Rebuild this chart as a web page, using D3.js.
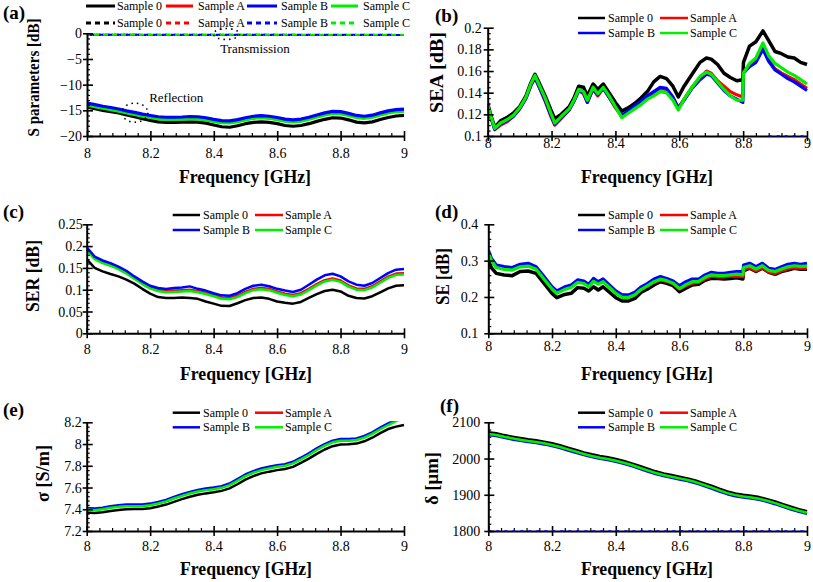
<!DOCTYPE html>
<html>
<head>
<meta charset="utf-8">
<script src="https://cdn.jsdelivr.net/npm/d3@7"></script>
<style>
  body { margin: 0; background: #fff; }
  text { font-family: "Liberation Serif", "Times New Roman", serif; fill: #000; }
</style>
</head>
<body>
<svg id="fig" width="813" height="582"></svg>
<script>
// ---- data ----
const freq = [8.000,8.025,8.050,8.075,8.100,8.125,8.150,8.175,8.200,8.225,8.250,8.275,8.300,8.325,8.350,8.375,8.400,8.425,8.450,8.475,8.500,8.525,8.550,8.575,8.600,8.625,8.650,8.675,8.700,8.725,8.750,8.775,8.800,8.825,8.850,8.875,8.900,8.925,8.950,8.975,9.000];
const freqT = [8.0,8.1,8.2,8.3,8.4,8.5,8.6,8.7,8.8,8.9,9.0];
const freqSEA = [8.000,8.010,8.022,8.040,8.060,8.080,8.100,8.120,8.135,8.148,8.160,8.180,8.198,8.210,8.230,8.255,8.270,8.285,8.300,8.312,8.330,8.345,8.362,8.380,8.400,8.420,8.440,8.460,8.480,8.500,8.520,8.540,8.560,8.580,8.597,8.615,8.640,8.665,8.685,8.700,8.720,8.740,8.760,8.780,8.799,8.801,8.820,8.840,8.862,8.880,8.900,8.920,8.940,8.960,8.980,9.000];
const freqSE = [8.000,8.010,8.025,8.050,8.075,8.100,8.125,8.150,8.175,8.200,8.215,8.240,8.260,8.280,8.300,8.315,8.330,8.345,8.360,8.380,8.400,8.420,8.440,8.460,8.480,8.500,8.520,8.540,8.560,8.580,8.600,8.620,8.640,8.660,8.680,8.700,8.720,8.740,8.760,8.780,8.799,8.801,8.820,8.840,8.860,8.880,8.900,8.920,8.940,8.960,8.980,9.000];

const sampleNames = ["Sample 0", "Sample A", "Sample B", "Sample C"];
const sampleColors = ["#000000", "#ff0000", "#0000ff", "#00ee00"];

// (a) reflection (solid) and transmission (dashed), dB
const s11_0 = [-14.4,-14.7,-15.0,-15.25,-15.5,-15.9,-16.25,-16.65,-16.95,-17.25,-17.35,-17.35,-17.3,-17.25,-17.3,-17.5,-17.85,-18.2,-18.3,-18.0,-17.6,-17.35,-17.25,-17.35,-17.6,-17.95,-18.1,-17.95,-17.6,-17.15,-16.75,-16.45,-16.5,-16.85,-17.3,-17.45,-17.25,-16.8,-16.4,-16.1,-16.0];
const s11_A = [-13.9,-14.2,-14.5,-14.75,-15.05,-15.4,-15.7,-16.05,-16.3,-16.55,-16.65,-16.65,-16.6,-16.5,-16.55,-16.75,-17.05,-17.3,-17.35,-17.1,-16.75,-16.45,-16.35,-16.45,-16.7,-17.0,-17.15,-17.0,-16.65,-16.2,-15.8,-15.5,-15.55,-15.9,-16.3,-16.45,-16.25,-15.8,-15.4,-15.15,-15.05];
const s11_B = [-13.6,-13.9,-14.2,-14.45,-14.75,-15.1,-15.4,-15.75,-16.0,-16.25,-16.35,-16.35,-16.3,-16.2,-16.25,-16.45,-16.75,-17.0,-17.05,-16.8,-16.45,-16.15,-16.05,-16.15,-16.4,-16.7,-16.85,-16.7,-16.35,-15.9,-15.5,-15.2,-15.25,-15.6,-16.0,-16.15,-15.95,-15.5,-15.1,-14.85,-14.75];
const s11_C = [-14.0,-14.3,-14.6,-14.85,-15.15,-15.5,-15.8,-16.15,-16.4,-16.65,-16.75,-16.75,-16.7,-16.6,-16.65,-16.85,-17.15,-17.4,-17.45,-17.2,-16.85,-16.55,-16.45,-16.55,-16.8,-17.1,-17.25,-17.1,-16.75,-16.3,-15.9,-15.6,-15.65,-16.0,-16.4,-16.55,-16.35,-15.9,-15.5,-15.25,-15.15];
const s21_0 = [-0.30,-0.30,-0.31,-0.31,-0.32,-0.32,-0.32,-0.33,-0.33,-0.33,-0.34];
const s21_A = [-0.28,-0.28,-0.29,-0.29,-0.30,-0.30,-0.30,-0.31,-0.31,-0.31,-0.32];
const s21_B = [-0.27,-0.27,-0.28,-0.28,-0.29,-0.29,-0.29,-0.30,-0.30,-0.30,-0.31];
const s21_C = [-0.26,-0.26,-0.27,-0.27,-0.28,-0.28,-0.28,-0.29,-0.29,-0.29,-0.30];

// (b) SEA, dB
const sea_0 = [0.130,0.119,0.108,0.114,0.117,0.121,0.127,0.137,0.149,0.157,0.150,0.137,0.124,0.116,0.120,0.127,0.135,0.146,0.145,0.137,0.148,0.143,0.148,0.140,0.131,0.123,0.126,0.130,0.135,0.141,0.150,0.155,0.153,0.146,0.136,0.146,0.157,0.168,0.172,0.171,0.166,0.158,0.154,0.151,0.152,0.168,0.183,0.187,0.197,0.188,0.178,0.176,0.173,0.172,0.168,0.166];
const sea_A = [0.128,0.117,0.106,0.110,0.113,0.118,0.125,0.135,0.146,0.154,0.146,0.132,0.118,0.110,0.116,0.124,0.132,0.142,0.139,0.131,0.143,0.137,0.144,0.136,0.126,0.118,0.122,0.127,0.131,0.136,0.140,0.144,0.143,0.135,0.126,0.134,0.145,0.154,0.160,0.158,0.151,0.146,0.141,0.138,0.136,0.159,0.165,0.169,0.181,0.170,0.162,0.158,0.155,0.152,0.148,0.144];
const sea_B = [0.128,0.117,0.106,0.111,0.114,0.118,0.125,0.135,0.147,0.154,0.146,0.133,0.119,0.111,0.117,0.124,0.132,0.142,0.140,0.131,0.144,0.138,0.144,0.136,0.127,0.119,0.123,0.128,0.132,0.137,0.141,0.145,0.144,0.136,0.126,0.133,0.144,0.152,0.157,0.156,0.149,0.142,0.137,0.134,0.131,0.158,0.164,0.168,0.180,0.169,0.161,0.157,0.153,0.150,0.146,0.142];
const sea_C = [0.129,0.118,0.107,0.112,0.115,0.119,0.126,0.136,0.148,0.156,0.148,0.135,0.121,0.112,0.118,0.125,0.133,0.143,0.141,0.133,0.145,0.139,0.145,0.137,0.127,0.117,0.121,0.125,0.129,0.134,0.137,0.141,0.140,0.133,0.124,0.134,0.145,0.155,0.159,0.157,0.150,0.143,0.137,0.133,0.133,0.158,0.167,0.172,0.186,0.174,0.167,0.163,0.159,0.156,0.152,0.148];

// (c) SER, dB
const ser_0 = [0.170,0.150,0.142,0.136,0.1305,0.123,0.114,0.102,0.091,0.083,0.081,0.081,0.082,0.081,0.079,0.073,0.068,0.063,0.0625,0.069,0.076,0.081,0.082,0.079,0.073,0.070,0.068,0.072,0.081,0.090,0.097,0.100,0.096,0.086,0.081,0.080,0.085,0.094,0.103,0.109,0.110];
const ser_A = [0.193,0.173,0.164,0.158,0.150,0.140,0.128,0.116,0.106,0.100,0.098,0.098,0.099,0.100,0.097,0.093,0.088,0.082,0.081,0.086,0.095,0.102,0.104,0.102,0.096,0.091,0.088,0.092,0.102,0.113,0.122,0.126,0.121,0.110,0.103,0.102,0.108,0.119,0.130,0.137,0.138];
const ser_B = [0.197,0.176,0.167,0.161,0.153,0.1435,0.1305,0.119,0.109,0.104,0.1015,0.104,0.105,0.1076,0.102,0.098,0.092,0.087,0.086,0.092,0.102,0.109,0.1115,0.108,0.102,0.098,0.0947,0.100,0.1115,0.123,0.133,0.1366,0.1305,0.119,0.1115,0.109,0.1153,0.1267,0.138,0.146,0.1473];
const ser_C = [0.190,0.170,0.161,0.155,0.147,0.137,0.125,0.113,0.103,0.097,0.094,0.095,0.096,0.097,0.094,0.090,0.085,0.079,0.078,0.083,0.092,0.099,0.101,0.099,0.093,0.088,0.085,0.089,0.099,0.110,0.119,0.123,0.118,0.107,0.100,0.099,0.105,0.116,0.127,0.134,0.135];

// (d) SE, dB
const se_0 = [0.302,0.280,0.265,0.2605,0.2587,0.270,0.2716,0.265,0.2376,0.210,0.198,0.207,0.210,0.2257,0.224,0.2165,0.228,0.219,0.228,0.213,0.198,0.189,0.189,0.196,0.213,0.222,0.233,0.242,0.2376,0.231,0.2147,0.224,0.233,0.235,0.2459,0.251,0.251,0.2495,0.251,0.253,0.2495,0.2716,0.279,0.270,0.279,0.268,0.2624,0.270,0.2743,0.279,0.276,0.276];
const se_A = [0.324,0.302,0.284,0.279,0.277,0.286,0.288,0.279,0.252,0.224,0.212,0.223,0.228,0.242,0.239,0.230,0.245,0.237,0.244,0.228,0.212,0.201,0.201,0.207,0.221,0.230,0.240,0.247,0.243,0.236,0.222,0.231,0.238,0.240,0.250,0.257,0.255,0.255,0.257,0.258,0.256,0.276,0.281,0.272,0.281,0.269,0.265,0.272,0.278,0.281,0.279,0.279];
const se_B = [0.329,0.306,0.288,0.2835,0.281,0.290,0.2927,0.2835,0.256,0.2284,0.2165,0.228,0.233,0.247,0.244,0.235,0.251,0.242,0.2495,0.233,0.2165,0.2055,0.2055,0.213,0.228,0.2376,0.2495,0.256,0.251,0.244,0.231,0.242,0.2495,0.2495,0.2606,0.268,0.265,0.265,0.268,0.270,0.270,0.288,0.2927,0.2835,0.2927,0.279,0.276,0.2835,0.290,0.2927,0.290,0.2927];
const se_C = [0.322,0.300,0.281,0.276,0.274,0.283,0.285,0.276,0.249,0.222,0.210,0.221,0.226,0.240,0.237,0.228,0.243,0.235,0.242,0.226,0.210,0.199,0.199,0.206,0.221,0.231,0.242,0.249,0.245,0.238,0.223,0.234,0.242,0.243,0.254,0.261,0.259,0.259,0.261,0.263,0.261,0.281,0.286,0.277,0.286,0.273,0.270,0.277,0.283,0.286,0.284,0.285];

// (e) conductivity, S/m
const sig_0 = [7.370,7.365,7.372,7.383,7.393,7.400,7.402,7.403,7.410,7.425,7.443,7.468,7.493,7.515,7.533,7.546,7.556,7.569,7.592,7.630,7.673,7.705,7.730,7.746,7.760,7.770,7.790,7.826,7.866,7.910,7.950,7.980,7.996,7.998,8.004,8.025,8.058,8.100,8.138,8.160,8.175];
const sig_A = [7.404,7.398,7.407,7.420,7.429,7.435,7.435,7.435,7.444,7.460,7.478,7.506,7.530,7.552,7.570,7.583,7.592,7.604,7.629,7.669,7.712,7.743,7.767,7.783,7.798,7.807,7.829,7.866,7.906,7.952,7.992,8.023,8.038,8.038,8.044,8.066,8.100,8.143,8.182,8.217,8.247];
const sig_B = [7.412,7.406,7.415,7.428,7.437,7.443,7.443,7.443,7.452,7.468,7.486,7.514,7.538,7.560,7.578,7.591,7.600,7.612,7.637,7.677,7.720,7.751,7.775,7.791,7.806,7.815,7.837,7.874,7.914,7.960,8.000,8.031,8.046,8.046,8.052,8.074,8.108,8.151,8.190,8.225,8.255];
const sig_C = [7.397,7.391,7.400,7.413,7.422,7.428,7.428,7.428,7.437,7.453,7.471,7.499,7.523,7.545,7.563,7.576,7.585,7.597,7.622,7.662,7.705,7.736,7.760,7.776,7.791,7.800,7.822,7.859,7.899,7.945,7.985,8.016,8.031,8.031,8.037,8.059,8.093,8.136,8.175,8.210,8.240];

// (f) skin depth, um
const del_0 = [2071.7,2069,2064,2059.8,2056,2052.4,2049.6,2046,2041.3,2035.8,2029.3,2023,2016.4,2011,2006.3,2002.6,1998,1992.5,1986,1978.7,1971.3,1964,1958.4,1953.8,1949.2,1944.6,1939,1931.6,1924.3,1916,1908.6,1903,1899.4,1896.6,1892.9,1887.4,1881,1873.6,1866.2,1859.8,1854.2];
const del_A = [2066.7,2064,2059,2054.8,2051,2047.4,2044.6,2041,2036.3,2030.8,2024.3,2018,2011.4,2006,2001.3,1997.6,1993,1987.5,1981,1973.7,1966.3,1959,1953.4,1948.8,1944.2,1939.6,1934,1926.6,1919.3,1911,1903.6,1898,1894.4,1891.6,1887.9,1882.4,1876,1868.6,1861.2,1854.8,1849.2];
const del_B = [2064.7,2062,2057,2052.8,2049,2045.4,2042.6,2039,2034.3,2028.8,2022.3,2016,2009.4,2004,1999.3,1995.6,1991,1985.5,1979,1971.7,1964.3,1957,1951.4,1946.8,1942.2,1937.6,1932,1924.6,1917.3,1909,1901.6,1896,1892.4,1889.6,1885.9,1880.4,1874,1866.6,1859.2,1852.8,1847.2];
const del_C = [2067.7,2065,2060,2055.8,2052,2048.4,2045.6,2042,2037.3,2031.8,2025.3,2019,2012.4,2007,2002.3,1998.6,1994,1988.5,1982,1974.7,1967.3,1960,1954.4,1949.8,1945.2,1940.6,1935,1927.6,1920.3,1912,1904.6,1899,1895.4,1892.6,1888.9,1883.4,1877,1869.6,1862.2,1855.8,1850.2];

// blue traces lying on the bottom axis (off-scale data) in (b) and (f)
const baseB_f = [8.88, 9.0];
const baseF_f = [8.0, 9.0];

// tick values
const xTicks = [8, 8.2, 8.4, 8.6, 8.8, 9];
const yTicksA = [-20, -15, -10, -5, 0];
const yTicksB = [0.1, 0.12, 0.14, 0.16, 0.18, 0.2];
const yTicksC = [0, 0.05, 0.1, 0.15, 0.2, 0.25];
const yTicksD = [0.1, 0.2, 0.3, 0.4];
const yTicksE = [7.2, 7.4, 7.6, 7.8, 8, 8.2];
const yTicksF = [1800, 1900, 2000, 2100];

const svg = d3.select("#fig");
const fmt = d3.format("~g");

function solid(xs, ys, i, w) { return { x: xs, y: ys, color: sampleColors[i], width: w }; }

// panel layout
const panels = [
  { id: "a", label: "(a)", lx: 3, ly: 19, left: 87, right: 404, top: 33.3, bottom: 136,
    yDomain: [-20, 0], yTicks: yTicksA, yMinor: 1, yTitle: "S parameters [dB]", tx: 39, ty: 77.5, tl: 118, tfs: 17.5,
    xLab: 22.3, yGap: 5, xTitleY: 183, xTitleX: 245,
    series: [solid(freq, s11_0, 0, 3.2), solid(freq, s11_A, 1, 3.2), solid(freq, s11_C, 3, 3.2), solid(freq, s11_B, 2, 3.2),
      { x: freqT, y: s21_0, color: sampleColors[0], width: 2, dash: "5,4", off: 0 },
      { x: freqT, y: s21_A, color: sampleColors[1], width: 2, dash: "5,4", off: 3 },
      { x: freqT, y: s21_B, color: sampleColors[2], width: 2, dash: "5,4", off: 6 },
      { x: freqT, y: s21_C, color: sampleColors[3], width: 2, dash: "5,4", off: 2 }],
    legend: { rows: [6, 23], cols: [[86, 115, 117], [166, 193, 198], [247, 277, 281], [331, 358, 363]], twoRows: true } },
  { id: "b", label: "(b)", lx: 435, ly: 22, left: 487.7, right: 807, top: 27.7, bottom: 136,
    yDomain: [0.1, 0.2], yTicks: yTicksB, yMinor: 0.005, yTitle: "SEA [dB]", tx: 442.5, ty: 72.5, tl: 81, tfs: 19,
    xLab: 11.5, yGap: 6, xTitleY: 183, xTitleX: 647, base: baseB_f,
    series: [solid(freqSEA, sea_0, 0, 3.5), solid(freqSEA, sea_A, 1, 3.2), solid(freqSEA, sea_B, 2, 3.2), solid(freqSEA, sea_C, 3, 3.2)],
    legend: { rows: [18, 33], cols: [[578, 605, 608], [660, 688, 690]] } },
  { id: "c", label: "(c)", lx: 3, ly: 218, left: 86.7, right: 404, top: 224.3, bottom: 333.3,
    yDomain: [0, 0.25], yTicks: yTicksC, yMinor: 0.01, yTitle: "SER [dB]", tx: 38.5, ty: 276, tl: 72, tfs: 19,
    xLab: 20.7, yGap: 4, xTitleY: 380, xTitleX: 246,
    series: [solid(freq, ser_0, 0, 2.5), solid(freq, ser_A, 1, 2.5), solid(freq, ser_C, 3, 2.5), solid(freq, ser_B, 2, 2.5)],
    legend: { rows: [215, 230], cols: [[172.7, 200, 203], [255, 283, 285]] } },
  { id: "d", label: "(d)", lx: 435, ly: 218, left: 488.3, right: 807, top: 224.3, bottom: 333.3,
    yDomain: [0.1, 0.4], yTicks: yTicksD, yMinor: 0.02, yTitle: "SE [dB]", tx: 448.5, ty: 276.5, tl: 57, tfs: 19,
    xLab: 18, yGap: 10, xTitleY: 380, xTitleX: 647,
    series: [solid(freqSE, se_0, 0, 3.5), solid(freqSE, se_A, 1, 3.2), solid(freqSE, se_B, 2, 3.2), solid(freqSE, se_C, 3, 3.2)],
    legend: { rows: [215, 230], cols: [[578, 605, 608], [660, 688, 690]] } },
  { id: "e", label: "(e)", lx: 3, ly: 416, left: 86.7, right: 404, top: 422.3, bottom: 531,
    yDomain: [7.2, 8.2], yTicks: yTicksE, yMinor: 0.04, yTitle: "\u03c3 [S/m]", tx: 48.5, ty: 473.5, tl: 57, tfs: 19,
    xLab: 20.3, yGap: 5, xTitleY: 575, xTitleX: 246,
    series: [solid(freq, sig_0, 0, 2.5), solid(freq, sig_A, 1, 2.5), solid(freq, sig_B, 2, 2.5), solid(freq, sig_C, 3, 2.5)],
    legend: { rows: [412.7, 427.3], cols: [[172.7, 200, 203], [255, 283, 285]] } },
  { id: "f", label: "(f)", lx: 440, ly: 412, left: 488.3, right: 807, top: 422.3, bottom: 531,
    yDomain: [1800, 2100], yTicks: yTicksF, yMinor: 20, yTitle: "\u03b4 [\u03bcm]", tx: 437.5, ty: 478.5, tl: 53, tfs: 19,
    xLab: 20.3, yGap: 8, xTitleY: 575, xTitleX: 647, base: baseF_f,
    series: [solid(freq, del_0, 0, 3), solid(freq, del_A, 1, 2.5), solid(freq, del_B, 2, 2.5), solid(freq, del_C, 3, 2.5)],
    legend: { rows: [412.7, 427.3], cols: [[578, 605, 608], [660, 688, 690]] } }
];

function drawPanel(p) {
  const x = d3.scaleLinear().domain([8, 9]).range([p.left, p.right]);
  const y = d3.scaleLinear().domain(p.yDomain).range([p.bottom, p.top]);
  const g = svg.append("g").attr("class", "panel-" + p.id);

  g.append("clipPath").attr("id", "clip-" + p.id).append("rect")
    .attr("x", p.left).attr("y", p.top - 1)
    .attr("width", p.right - p.left + 1).attr("height", p.bottom - p.top + 1);

  const plot = g.append("g").attr("clip-path", "url(#clip-" + p.id + ")");
  p.series.forEach(s => {
    const line = d3.line().x((d, i) => x(s.x[i])).y(d => y(d));
    plot.append("path").datum(s.y)
      .attr("d", line)
      .attr("fill", "none")
      .attr("stroke", s.color)
      .attr("stroke-width", s.width)
      .attr("stroke-linejoin", "round")
      .attr("stroke-dasharray", s.dash || null)
      .attr("stroke-dashoffset", s.off || 0);
  });

  // minor ticks
  const xMinor = d3.range(8, 9.0001, 0.04).filter(v => Math.abs(v * 5 - Math.round(v * 5)) > 1e-6);
  g.append("g").attr("transform", `translate(0,${p.bottom})`)
    .call(d3.axisBottom(x).tickValues(xMinor).tickSize(-3).tickFormat(""))
    .call(a => a.select(".domain").remove())
    .selectAll("line").attr("stroke-width", 1.2);
  const step = p.yTicks[1] - p.yTicks[0];
  const yMinor = d3.range(p.yDomain[0], p.yDomain[1] + 1e-9, p.yMinor)
    .filter(v => Math.abs((v - p.yDomain[0]) / step - Math.round((v - p.yDomain[0]) / step)) > 1e-6);
  g.append("g").attr("transform", `translate(${p.left},0)`)
    .call(d3.axisLeft(y).tickValues(yMinor).tickSize(-3).tickFormat(""))
    .call(a => a.select(".domain").remove())
    .selectAll("line").attr("stroke-width", 1.2);

  // major axes
  const xa = g.append("g").attr("transform", `translate(0,${p.bottom})`)
    .call(d3.axisBottom(x).tickValues(xTicks).tickFormat(fmt).tickSizeOuter(0));
  xa.select(".domain").attr("stroke-width", 2);
  xa.selectAll(".tick line").attr("y1", -5).attr("y2", 5).attr("stroke-width", 1.6);
  xa.selectAll(".tick text").attr("y", p.xLab).attr("dy", 0)
    .style("font-family", "Liberation Serif").style("font-size", "14px");

  // blue trace resting on the x axis
  if (p.base) {
    g.append("line").attr("x1", x(p.base[0])).attr("x2", x(p.base[1]))
      .attr("y1", p.bottom).attr("y2", p.bottom)
      .attr("stroke", sampleColors[2]).attr("stroke-width", 1.6).attr("stroke-dasharray", "3,5");
  }

  const ya = g.append("g").attr("transform", `translate(${p.left},0)`)
    .call(d3.axisLeft(y).tickValues(p.yTicks).tickFormat(fmt).tickSizeOuter(0));
  ya.select(".domain").attr("stroke-width", 2);
  ya.selectAll(".tick line").attr("x1", -4).attr("x2", 6).attr("stroke-width", 1.6);
  ya.selectAll(".tick text").attr("x", -p.yGap).attr("dy", "0.33em")
    .style("font-family", "Liberation Serif").style("font-size", "14px");

  // titles
  g.append("text").attr("x", p.xTitleX).attr("y", p.xTitleY)
    .attr("text-anchor", "middle").attr("font-weight", "bold").attr("font-size", 19)
    .attr("textLength", 132).attr("lengthAdjust", "spacingAndGlyphs")
    .text("Frequency [GHz]");
  g.append("text").attr("transform", `translate(${p.tx},${p.ty}) rotate(-90)`)
    .attr("text-anchor", "middle").attr("font-weight", "bold").attr("font-size", p.tfs)
    .attr("textLength", p.tl).attr("lengthAdjust", "spacingAndGlyphs")
    .text(p.yTitle);
  g.append("text").attr("x", p.lx).attr("y", p.ly)
    .attr("font-weight", "bold").attr("font-size", 19).text(p.label);

  // legend
  const L = p.legend;
  if (L.twoRows) {
    [false, true].forEach((dashed, r) => {
      L.cols.forEach((c, i) => {
        g.append("line").attr("x1", c[0]).attr("x2", c[1]).attr("y1", L.rows[r]).attr("y2", L.rows[r])
          .attr("stroke", sampleColors[i]).attr("stroke-width", 3).attr("stroke-dasharray", dashed ? "5,4" : null);
        g.append("text").attr("x", c[2]).attr("y", L.rows[r] + 4).attr("font-size", 12).text(sampleNames[i]);
      });
    });
  } else {
    sampleNames.forEach((name, i) => {
      const c = L.cols[i % 2], ry = L.rows[Math.floor(i / 2)];
      g.append("line").attr("x1", c[0]).attr("x2", c[1]).attr("y1", ry).attr("y2", ry)
        .attr("stroke", sampleColors[i]).attr("stroke-width", 2.5);
      g.append("text").attr("x", c[2]).attr("y", ry + 4).attr("font-size", 12).text(name);
    });
  }
  return { x, y, g };
}

const handles = panels.map(drawPanel);

// annotations in (a)
const ha = handles[0];
ha.g.append("text").attr("x", ha.x(8.196)).attr("y", ha.y(-13.4)).attr("font-size", 13).text("Reflection");
ha.g.append("text").attr("x", ha.x(8.42)).attr("y", ha.y(-3.84)).attr("font-size", 13).text("Transmission");
ha.g.append("ellipse").attr("cx", ha.x(8.151)).attr("cy", ha.y(-15.46)).attr("rx", 13).attr("ry", 9.5)
  .attr("fill", "none").attr("stroke", "#000").attr("stroke-width", 1.6).attr("stroke-dasharray", "1.5,4");
ha.g.append("ellipse").attr("cx", ha.x(8.44)).attr("cy", ha.y(-0.14)).attr("rx", 13).attr("ry", 5.5)
  .attr("fill", "none").attr("stroke", "#000").attr("stroke-width", 1.6).attr("stroke-dasharray", "1.5,4");
</script>
</body>
</html>
